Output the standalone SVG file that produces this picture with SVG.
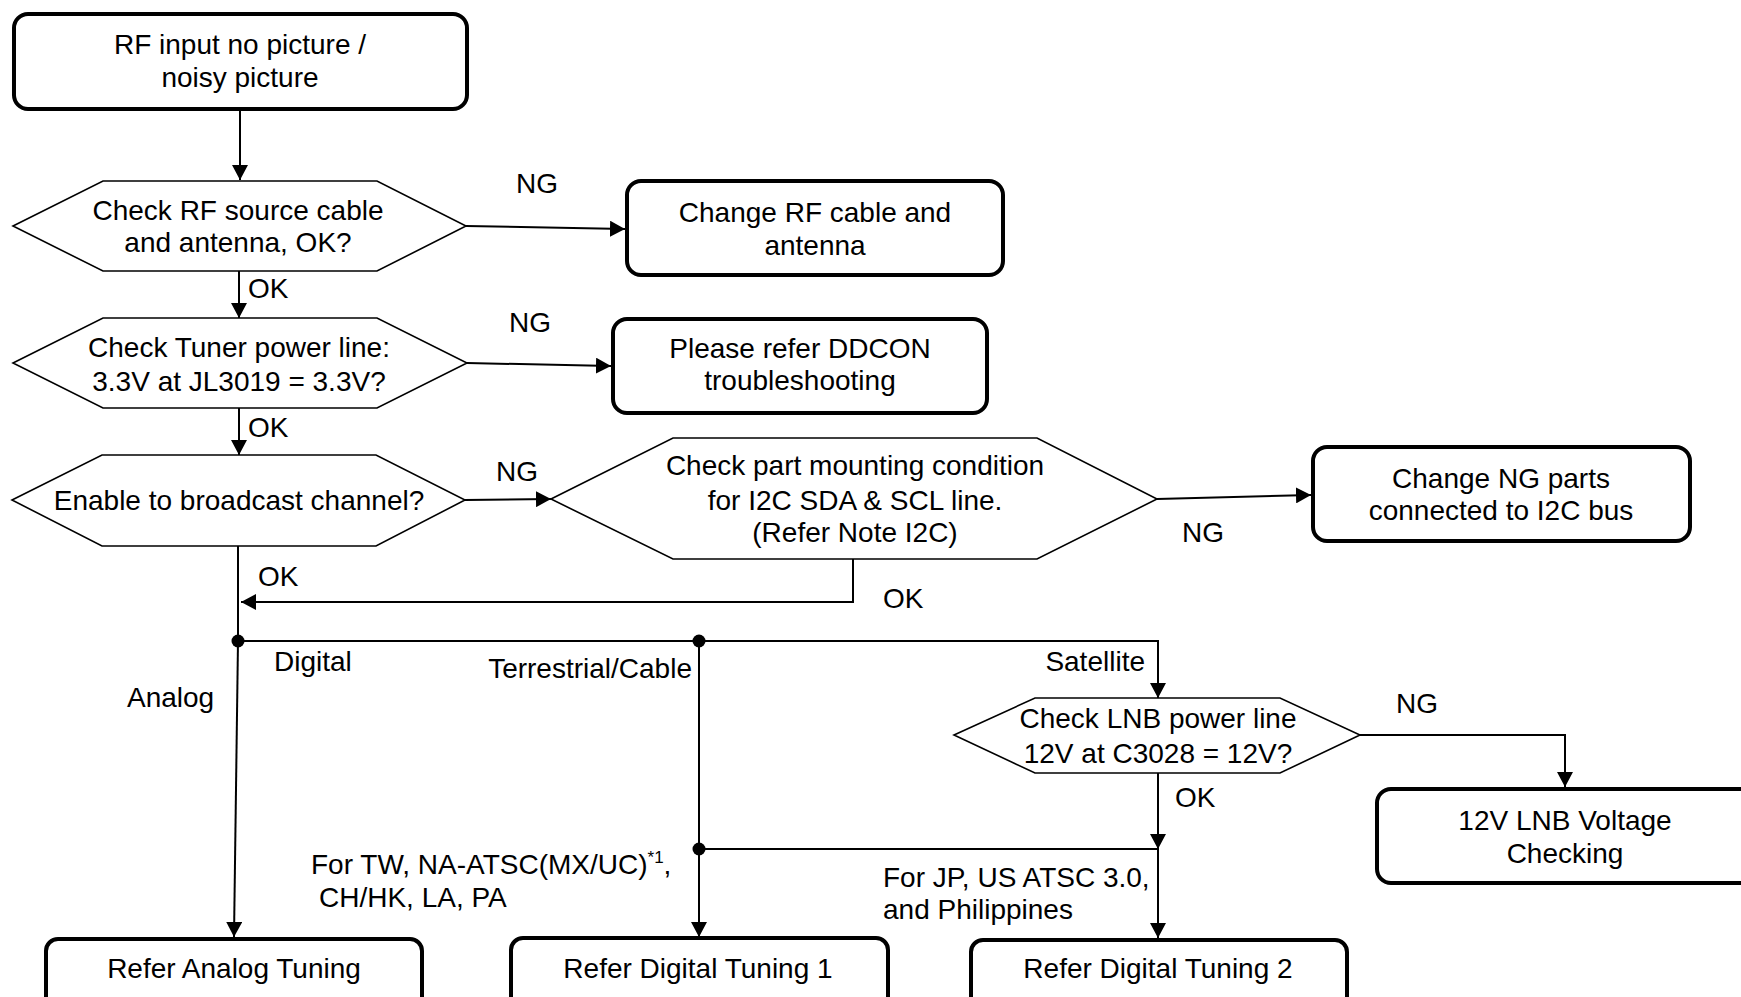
<svg xmlns="http://www.w3.org/2000/svg" width="1741" height="997" viewBox="0 0 1741 997">
<defs>
<marker id="ah" markerUnits="userSpaceOnUse" markerWidth="16" markerHeight="16" viewBox="0 0 16 16" refX="15" refY="8" orient="auto">
<path d="M0,0 L15,8 L0,16 Z" fill="#000"/>
</marker>
<style>
text{font-family:"Liberation Sans",Arial,sans-serif;font-size:28px;fill:#000}
.c{text-anchor:middle}
.e{text-anchor:end}
.box{fill:#fff;stroke:#000;stroke-width:4}
.dec{fill:#fff;stroke:#000;stroke-width:1.6}
.ln{fill:none;stroke:#000;stroke-width:2}
.ar{fill:none;stroke:#000;stroke-width:2;marker-end:url(#ah)}
</style>
</defs>
<rect width="1741" height="997" fill="#fff"/>
<g id="connectors">
<path class="ar" d="M240,110 V180"/>
<path class="ar" d="M466,226 L625,229"/>
<path class="ar" d="M239,271 V318"/>
<path class="ar" d="M467,363 L611,366"/>
<path class="ar" d="M239,408 V455"/>
<path class="ar" d="M465,500 L551,499"/>
<path class="ar" d="M1157,499 L1311,495"/>
<path class="ar" d="M853,559 V602 H241"/>
<path class="ln" d="M238,546 V641"/>
<path class="ar" d="M238,641 L234,937"/>
<path class="ar" d="M238,641 H1158 V698"/>
<path class="ar" d="M699,641 V937"/>
<path class="ln" d="M699,849 H1158"/>
<path class="ar" d="M1158,773 V849"/>
<path class="ar" d="M1158,849 V938"/>
<path class="ar" d="M1360,735 H1565 V787"/>
<circle cx="238" cy="641" r="6.5" fill="#000"/>
<circle cx="699" cy="641" r="6.5" fill="#000"/>
<circle cx="699" cy="849" r="6.5" fill="#000"/>
<text x="516" y="193">NG</text>
<text x="248" y="298">OK</text>
<text x="509" y="332">NG</text>
<text x="248" y="437">OK</text>
<text x="496" y="481">NG</text>
<text x="258" y="586">OK</text>
<text x="883" y="608">OK</text>
<text x="1182" y="542">NG</text>
<text x="274" y="671">Digital</text>
<text x="127" y="707">Analog</text>
<text class="e" x="692" y="678">Terrestrial/Cable</text>
<text class="e" x="1145" y="671">Satellite</text>
<text x="1396" y="713">NG</text>
<text x="1175" y="807">OK</text>
<text x="311" y="874">For TW, NA-ATSC(MX/UC)<tspan font-size="17" dy="-11">*1</tspan><tspan dy="11">,</tspan></text>
<text x="319" y="907">CH/HK, LA, PA</text>
<text x="883" y="887">For JP, US ATSC 3.0,</text>
<text x="883" y="919">and Philippines</text>
</g>
<g id="start">
<rect class="box" x="14" y="14" width="453" height="95" rx="14"/>
<text class="c" x="240" y="54">RF input no picture /</text>
<text class="c" x="240" y="87">noisy picture</text>
</g>
<g id="d1">
<polygon class="dec" points="13,226 103,181 377,181 466,226 377,271 103,271"/>
<text class="c" x="238" y="219.5">Check RF source cable</text>
<text class="c" x="238" y="252">and antenna, OK?</text>
</g>
<g id="d2">
<polygon class="dec" points="13,363 103,318 377,318 467,363 377,408 103,408"/>
<text class="c" x="239" y="357">Check Tuner power line:</text>
<text class="c" x="239" y="391">3.3V at JL3019 = 3.3V?</text>
</g>
<g id="d3">
<polygon class="dec" points="12,500 102,455 376,455 465,500 376,546 102,546"/>
<text class="c" x="239" y="510">Enable to broadcast channel?</text>
</g>
<g id="d4">
<polygon class="dec" points="551,499 673,438 1037,438 1157,499 1037,559 673,559"/>
<text class="c" x="855" y="475">Check part mounting condition</text>
<text class="c" x="855" y="510">for I2C SDA &amp; SCL line.</text>
<text class="c" x="855" y="542">(Refer Note I2C)</text>
</g>
<g id="d5">
<polygon class="dec" points="954,735 1035,698 1280,698 1360,735 1280,773 1035,773"/>
<text class="c" x="1158" y="728">Check LNB power line</text>
<text class="c" x="1158" y="763">12V at C3028 = 12V?</text>
</g>
<g id="changeRF">
<rect class="box" x="627" y="181" width="376" height="94" rx="14"/>
<text class="c" x="815" y="222">Change RF cable and</text>
<text class="c" x="815" y="255">antenna</text>
</g>
<g id="ddcon">
<rect class="box" x="613" y="319" width="374" height="94" rx="14"/>
<text class="c" x="800" y="358">Please refer DDCON</text>
<text class="c" x="800" y="390">troubleshooting</text>
</g>
<g id="changeNG">
<rect class="box" x="1313" y="447" width="377" height="94" rx="14"/>
<text class="c" x="1501" y="488">Change NG parts</text>
<text class="c" x="1501" y="520">connected to I2C bus</text>
</g>
<g id="lnb12v">
<rect class="box" x="1377" y="789" width="380" height="94" rx="14"/>
<text class="c" x="1565" y="830">12V LNB Voltage</text>
<text class="c" x="1565" y="863">Checking</text>
</g>
<g id="analog">
<rect class="box" x="46" y="939" width="376" height="80" rx="12"/>
<text class="c" x="234" y="978">Refer Analog Tuning</text>
</g>
<g id="dt1">
<rect class="box" x="511" y="938" width="377" height="80" rx="12"/>
<text class="c" x="698" y="978">Refer Digital Tuning 1</text>
</g>
<g id="dt2">
<rect class="box" x="971" y="940" width="376" height="80" rx="12"/>
<text class="c" x="1158" y="978">Refer Digital Tuning 2</text>
</g>
</svg>
